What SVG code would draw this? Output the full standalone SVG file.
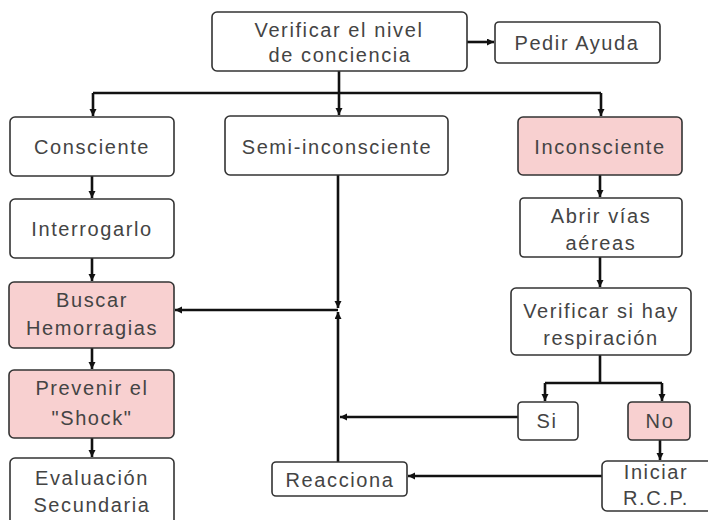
<svg xmlns="http://www.w3.org/2000/svg" width="708" height="520" viewBox="0 0 708 520">
<defs>
<marker id="ah" markerUnits="userSpaceOnUse" markerWidth="9" markerHeight="9" refX="7" refY="3.5" orient="auto">
<path d="M0,0 L7,3.5 L0,7 Z" fill="#111"/>
</marker>
<style>
.box{fill:#fff;stroke:#333;stroke-width:1.6}
.pink{fill:#f8d0d0;stroke:#333;stroke-width:1.6}
.t{font-family:"Liberation Sans",Arial,sans-serif;font-size:20px;letter-spacing:1.6px;fill:#444;text-anchor:middle}
.c{fill:none;stroke:#111;stroke-width:2.6}
</style>
</defs>
<rect width="708" height="520" fill="#fff"/>
<g id="connectors">
<path class="c" d="M339,71 V93"/>
<path class="c" d="M93,93 H601"/>
<path class="c" d="M93,93 V116" marker-end="url(#ah)"/>
<path class="c" d="M339,93 V115" marker-end="url(#ah)"/>
<path class="c" d="M601,93 V116" marker-end="url(#ah)"/>
<path class="c" d="M467,42 H494" marker-end="url(#ah)"/>
<path class="c" d="M92,176 V198" marker-end="url(#ah)"/>
<path class="c" d="M92,258 V281" marker-end="url(#ah)"/>
<path class="c" d="M92,348 V369" marker-end="url(#ah)"/>
<path class="c" d="M92,438 V457" marker-end="url(#ah)"/>
<path class="c" d="M338,175 V308" marker-end="url(#ah)"/>
<path class="c" d="M338,310 H175" marker-end="url(#ah)"/>
<path class="c" d="M338,462 V312" marker-end="url(#ah)"/>
<path class="c" d="M518,417 H340" marker-end="url(#ah)"/>
<path class="c" d="M600,175 V197" marker-end="url(#ah)" stroke-width="3.4"/>
<path class="c" d="M600,257 V287" marker-end="url(#ah)" stroke-width="3.4"/>
<path class="c" d="M600,355 V383" stroke-width="3.4"/>
<path class="c" d="M545,383 H662"/>
<path class="c" d="M545,383 V401" marker-end="url(#ah)"/>
<path class="c" d="M662,383 V401" marker-end="url(#ah)"/>
<path class="c" d="M660,440 V460" marker-end="url(#ah)"/>
<path class="c" d="M602,476 H408" marker-end="url(#ah)"/>
</g>
<g id="n_verificar"><rect class="box" x="212" y="12" width="255" height="59" rx="5"/><text class="t" x="339" y="37">Verificar el nivel</text><text class="t" x="340" y="62">de conciencia</text></g>
<g id="n_pedir"><rect class="box" x="495" y="22" width="165" height="41" rx="4"/><text class="t" x="577" y="50">Pedir Ayuda</text></g>
<g id="n_consciente"><rect class="box" x="10" y="117" width="164" height="59" rx="5"/><text class="t" x="92" y="154">Consciente</text></g>
<g id="n_interrogarlo"><rect class="box" x="10" y="199" width="164" height="59" rx="5"/><text class="t" x="92" y="236">Interrogarlo</text></g>
<g id="n_buscar"><rect class="pink" x="9" y="282" width="165" height="66" rx="5"/><text class="t" x="92" y="307">Buscar</text><text class="t" x="92" y="335">Hemorragias</text></g>
<g id="n_prevenir"><rect class="pink" x="9" y="370" width="165" height="68" rx="5"/><text class="t" x="92" y="395">Prevenir el</text><text class="t" x="92" y="425">"Shock"</text></g>
<g id="n_evaluacion"><rect class="box" x="10" y="458" width="164" height="68" rx="5"/><text class="t" x="92" y="485">Evaluación</text><text class="t" x="92" y="512">Secundaria</text></g>
<g id="n_semi"><rect class="box" x="225" y="116" width="223" height="59" rx="5"/><text class="t" x="337" y="154">Semi-inconsciente</text></g>
<g id="n_inconsciente"><rect class="pink" x="518" y="117" width="164" height="58" rx="5"/><text class="t" x="600" y="154">Inconsciente</text></g>
<g id="n_abrir"><rect class="box" x="520" y="198" width="162" height="59" rx="4"/><text class="t" x="601" y="223">Abrir vías</text><text class="t" x="601" y="250">aéreas</text></g>
<g id="n_resp"><rect class="box" x="511" y="288" width="180" height="67" rx="5"/><text class="t" x="601" y="318">Verificar si hay</text><text class="t" x="601" y="345">respiración</text></g>
<g id="n_si"><rect class="box" x="518" y="402" width="60" height="38" rx="4"/><text class="t" x="547" y="428">Si</text></g>
<g id="n_no"><rect class="pink" x="628" y="402" width="62" height="38" rx="4"/><text class="t" x="660" y="428">No</text></g>
<g id="n_reacciona"><rect class="box" x="272" y="462" width="135" height="34" rx="4"/><text class="t" x="340" y="487">Reacciona</text></g>
<g id="n_iniciar"><rect class="box" x="602" y="461" width="112" height="50" rx="5"/><text class="t" x="656" y="479">Iniciar</text><text class="t" x="656" y="505">R.C.P.</text></g>
</svg>
